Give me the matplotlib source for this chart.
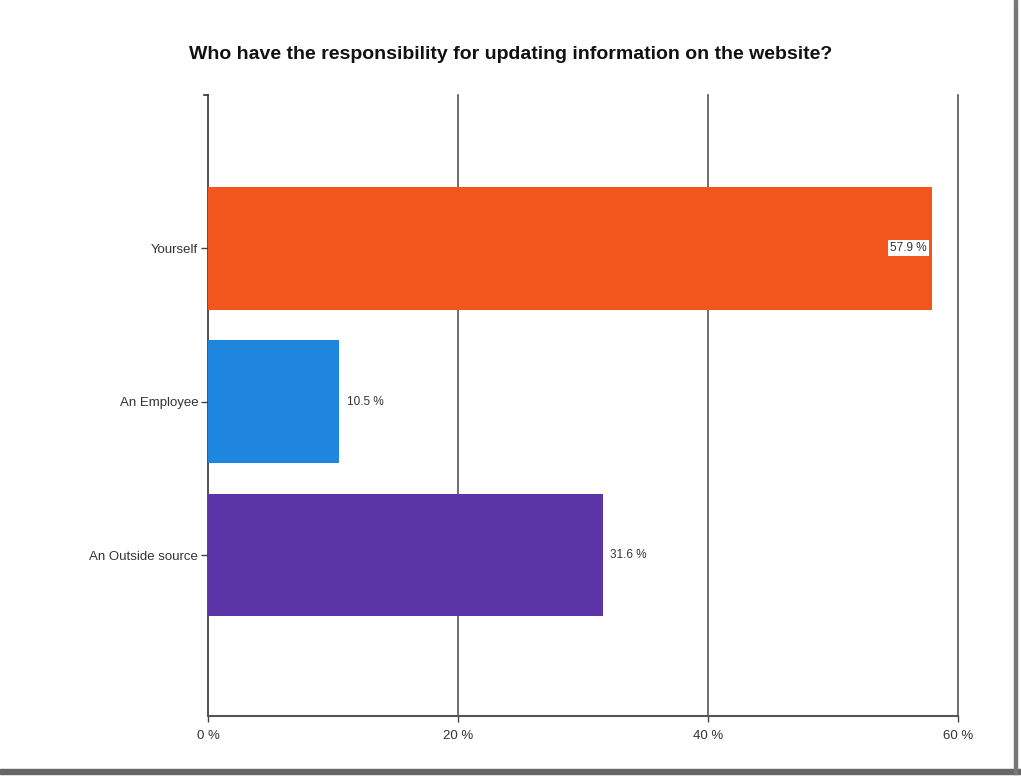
import matplotlib

matplotlib.use("Agg")
import matplotlib.pyplot as plt
from matplotlib.patches import Rectangle

categories = ["Yourself", "An Employee", "An Outside source"]
shares = [57.9, 10.5, 31.6]
colors = ["#F2561D", "#1F86E0", "#5B34A8"]
xticks = [0, 20, 40, 60]

plt.rcParams["font.family"] = ["Liberation Sans", "DejaVu Sans"]

fig = plt.figure(figsize=(10.21, 7.76), dpi=100)
ax = fig.add_axes([0.2037, 0.0773, 0.7346, 0.8003])

ypos = list(range(len(categories)))
bars = ax.barh(ypos, shares, height=0.8, color=colors, zorder=3)

for i, (b, v) in enumerate(zip(bars, shares)):
    label = f"{v:.1f} %"
    yc = b.get_y() + b.get_height() / 2
    if i == 0:
        ax.text(v - 0.4, yc, label, ha="right", va="center", fontsize=8.5,
                color="#333333", zorder=4,
                bbox=dict(facecolor="white", edgecolor="none", pad=1.5))
    else:
        ax.text(v + 0.6, yc, label, ha="left", va="center", fontsize=8.5,
                color="#333333", zorder=4)

ax.set_xlim(0, 60)
ax.set_ylim(3.05, -1.0)
ax.set_xticks(xticks)
ax.set_xticklabels([f"{t} %" for t in xticks], fontsize=9.5, color="#333333")
ax.set_yticks(ypos)
ax.set_yticklabels(categories, fontsize=9.5, color="#333333")
ax.tick_params(axis="y", length=5, width=1, color="#444444", pad=2)
ax.tick_params(axis="x", length=4, width=1, color="#444444", pad=6)

for t in xticks[1:]:
    ax.axvline(t, color="#555555", lw=1.2, zorder=1, clip_on=False)

# small tick capping the top of the value axis
ax.plot([-0.35, 0], [-1.0, -1.0], color="#333333", lw=1.2, clip_on=False)

for side in ("top", "right"):
    ax.spines[side].set_visible(False)
ax.spines["left"].set_color("#333333")
ax.spines["bottom"].set_color("#555555")
ax.spines["left"].set_linewidth(1.2)
ax.spines["bottom"].set_linewidth(1.5)

fig.text(0.5, 0.930, "Who have the responsibility for updating information on the website?",
         ha="center", va="center", fontsize=14, fontweight="bold", color="#111111")

# page border along bottom and right edge
fig.patches.append(Rectangle((0, 0.003), 1, 0.006, transform=fig.transFigure,
                             color="#666666", zorder=0))
fig.patches.append(Rectangle((0.993, 0.003), 0.003, 0.997, transform=fig.transFigure,
                             color="#777777", zorder=0))

fig.savefig("out.png", dpi=100)
